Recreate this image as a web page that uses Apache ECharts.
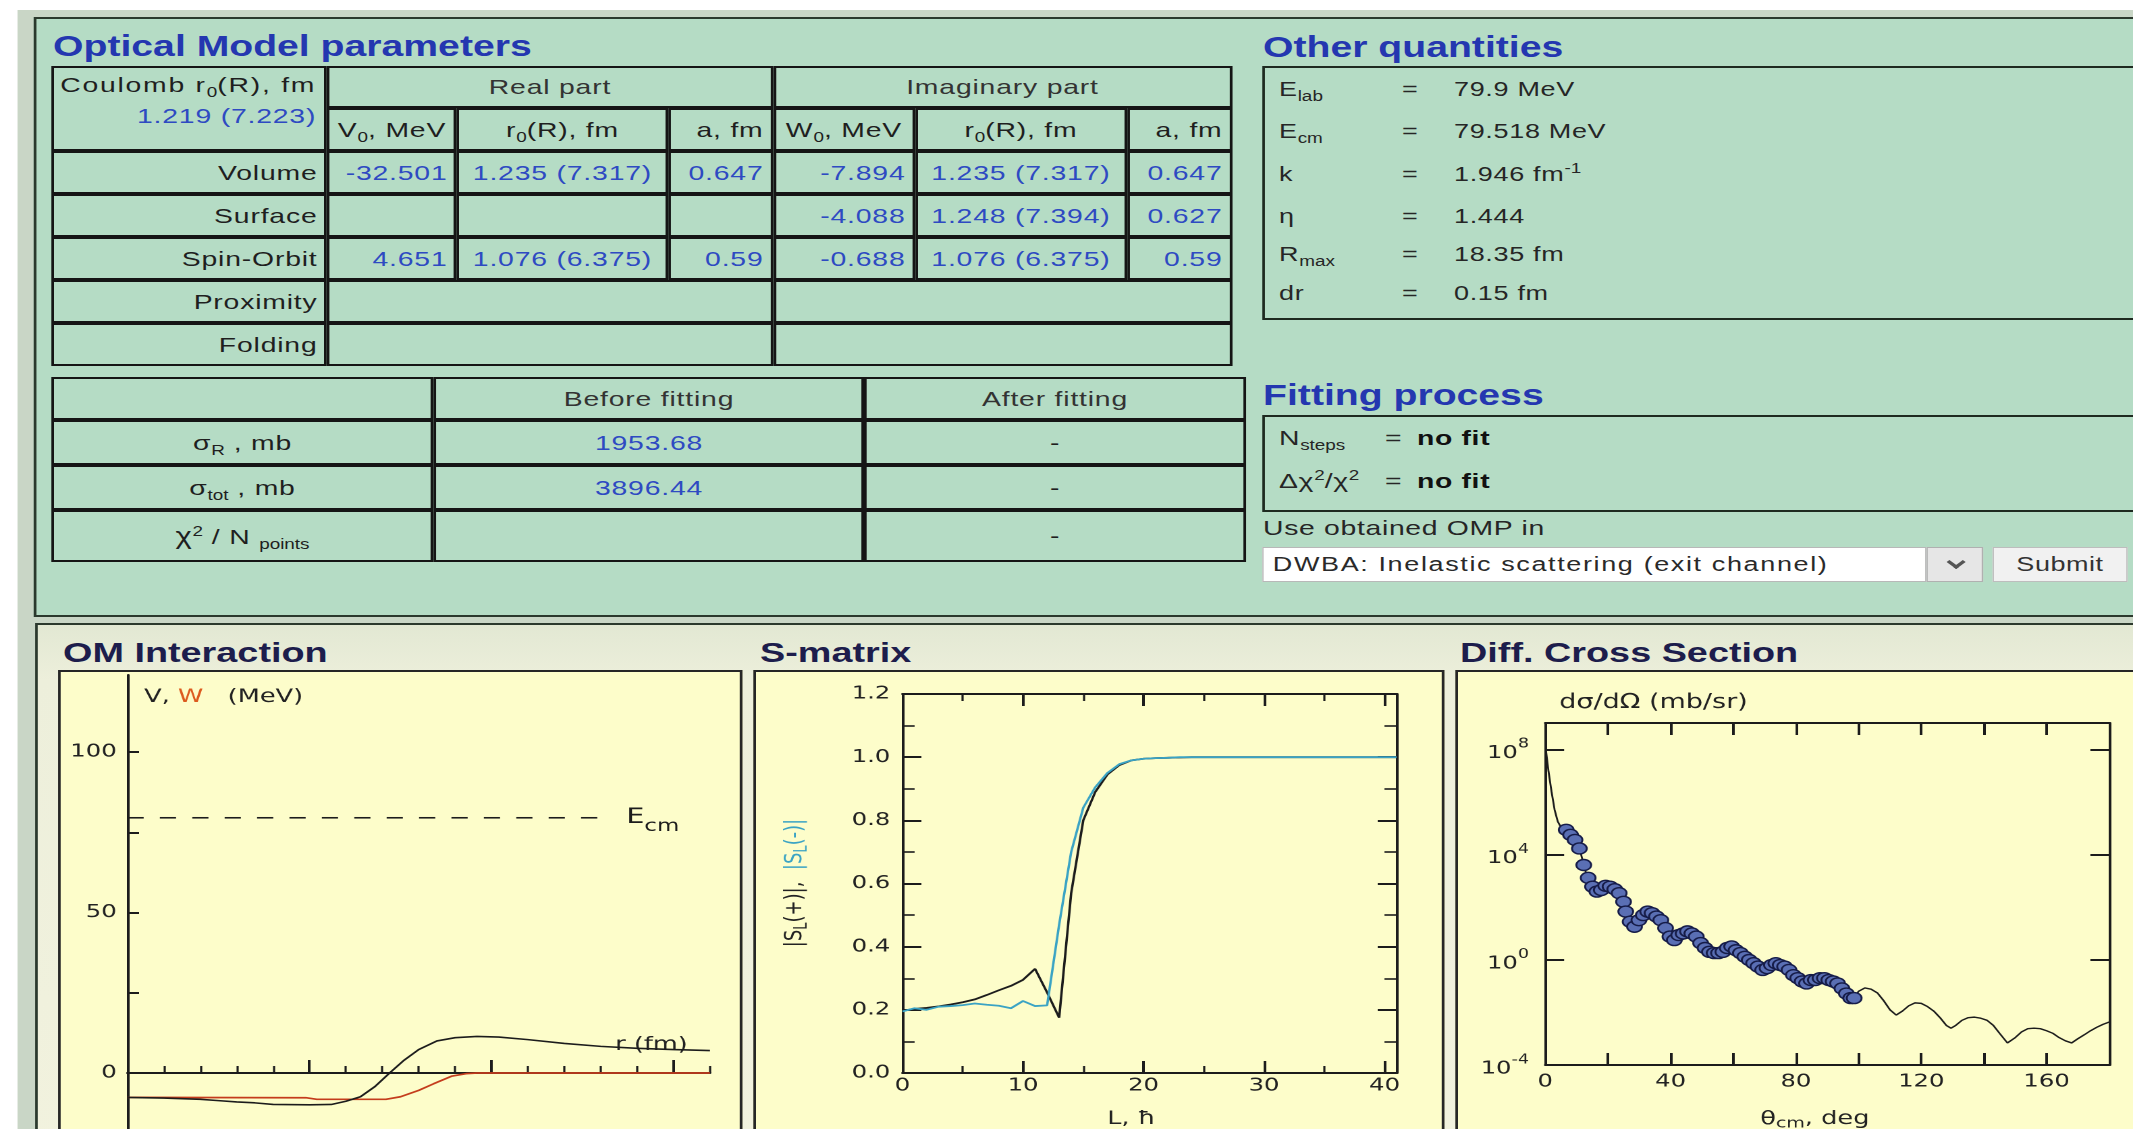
<!DOCTYPE html>
<html>
<head>
<meta charset="utf-8">
<title>Optical Model</title>
<script src="https://cdn.jsdelivr.net/npm/echarts@6.0.0/dist/echarts.min.js"></script>
<style>
html,body{margin:0;padding:0;width:2133px;height:1129px;overflow:hidden;background:#fff}
#page{position:absolute;left:0;top:0;width:1580px;height:1129px;overflow:hidden;transform:scaleX(1.35);transform-origin:0 0;font-family:"Liberation Sans",Arial,sans-serif;color:#1f1f1f}
.abs{position:absolute;box-sizing:border-box}
.frame{left:13.3px;top:10px;width:1700px;height:1300px;background:#c9d6c6}
.upper{left:25.2px;top:17px;width:1700px;height:600px;background:#b5dcc5;border:2px solid #2b392d}
.lower{left:26px;top:623px;width:1700px;height:700px;border:2px solid #2b392d;background:linear-gradient(#e2e8d3,#edefdb 55px,#f3f3df)}
.h1{font-weight:bold;font-size:29px;line-height:29px;color:#2437b0;white-space:nowrap}
.h2{font-weight:bold;font-size:28px;line-height:28px;color:#1d1d4c;white-space:nowrap}
.tbl{display:grid;font-size:21px;letter-spacing:0.6px;color:#1f1f1f}
.tbl>div{box-sizing:border-box;border:2px solid #151515;display:flex;align-items:center;padding:0 5px;white-space:nowrap;overflow:hidden}
.tbl>div.r{justify-content:flex-end}
.tbl>div.c{justify-content:center}
.tbl>div.coul{flex-direction:column;align-items:flex-end;justify-content:flex-start;padding:1px 6px 0 0;line-height:31px}
.v{color:#2e4ac2}
sub{font-size:14px;vertical-align:-5px;line-height:0;letter-spacing:0}
sup{font-size:14px;vertical-align:8px;line-height:0;letter-spacing:0}
.box{border:2px solid #1e2a20}
.row{font-size:20px;line-height:30px;height:30px;letter-spacing:0.5px;white-space:nowrap;color:#262626}
.frow{font-size:21px;line-height:30px;height:30px;letter-spacing:0.5px;white-space:nowrap;color:#262626}
.chart{border:2px solid #262626;background:#fdfdca}
.sel{background:#fff;border:1px solid #b8b8b8;font-size:20px;line-height:33px;padding-left:7px;color:#2a2a2a;letter-spacing:1.2px;white-space:nowrap;overflow:hidden}
.btn{background:#e6e6e6;border:1px solid #b0b0b0}
.sub{background:#f1f1f1;border:1px solid #bdbdbd;font-size:20px;line-height:33px;text-align:center;color:#333;letter-spacing:0.4px}
.chev{left:16px;top:9px;width:10px;height:10px;border-right:3px solid #555;border-bottom:3px solid #555;transform:rotate(45deg)}
</style>
</head>
<body>
<div id="page">
  <div class="abs frame"></div>
  <div class="abs upper"></div>
  <div class="abs lower"></div>

  <!-- optical model parameter table -->
  <div class="abs h1" style="left:39.3px;top:32.2px">Optical Model parameters</div>
  <div class="abs tbl" style="left:37.8px;top:66px;grid-template-columns:204.4px 96.3px 156.3px 77.8px 105.2px 157px 77.8px;grid-template-rows:42px 43px 43px 43px 43px 43px 43px">
    <div class="coul" style="grid-row:1/3;grid-column:1/2"><span style="letter-spacing:1.3px">Coulomb r<sub>0</sub>(R), fm</span><span class="v">1.219 (7.223)</span></div>
    <div class="c" style="grid-row:1/2;grid-column:2/5;color:#333"><span>Real part</span></div>
    <div class="c" style="grid-row:1/2;grid-column:5/8;color:#333"><span>Imaginary part</span></div>
    <div class="c" style="grid-row:2/3;grid-column:2/3"><span>V<sub>0</sub>, MeV</span></div>
    <div class="c" style="grid-row:2/3;grid-column:3/4"><span>r<sub>0</sub>(R), fm</span></div>
    <div class="r" style="grid-row:2/3;grid-column:4/5"><span>a, fm</span></div>
    <div class="c" style="grid-row:2/3;grid-column:5/6"><span>W<sub>0</sub>, MeV</span></div>
    <div class="c" style="grid-row:2/3;grid-column:6/7"><span>r<sub>0</sub>(R), fm</span></div>
    <div class="r" style="grid-row:2/3;grid-column:7/8"><span>a, fm</span></div>

    <div class="r" style="grid-row:3/4;grid-column:1/2"><span>Volume</span></div>
    <div class="r v" style="grid-row:3/4;grid-column:2/3"><span>-32.501</span></div>
    <div class="c v" style="grid-row:3/4;grid-column:3/4"><span>1.235 (7.317)</span></div>
    <div class="r v" style="grid-row:3/4;grid-column:4/5"><span>0.647</span></div>
    <div class="r v" style="grid-row:3/4;grid-column:5/6"><span>-7.894</span></div>
    <div class="c v" style="grid-row:3/4;grid-column:6/7"><span>1.235 (7.317)</span></div>
    <div class="r v" style="grid-row:3/4;grid-column:7/8"><span>0.647</span></div>

    <div class="r" style="grid-row:4/5;grid-column:1/2"><span>Surface</span></div>
    <div style="grid-row:4/5;grid-column:2/3"></div>
    <div style="grid-row:4/5;grid-column:3/4"></div>
    <div style="grid-row:4/5;grid-column:4/5"></div>
    <div class="r v" style="grid-row:4/5;grid-column:5/6"><span>-4.088</span></div>
    <div class="c v" style="grid-row:4/5;grid-column:6/7"><span>1.248 (7.394)</span></div>
    <div class="r v" style="grid-row:4/5;grid-column:7/8"><span>0.627</span></div>

    <div class="r" style="grid-row:5/6;grid-column:1/2"><span>Spin-Orbit</span></div>
    <div class="r v" style="grid-row:5/6;grid-column:2/3"><span>4.651</span></div>
    <div class="c v" style="grid-row:5/6;grid-column:3/4"><span>1.076 (6.375)</span></div>
    <div class="r v" style="grid-row:5/6;grid-column:4/5"><span>0.59</span></div>
    <div class="r v" style="grid-row:5/6;grid-column:5/6"><span>-0.688</span></div>
    <div class="c v" style="grid-row:5/6;grid-column:6/7"><span>1.076 (6.375)</span></div>
    <div class="r v" style="grid-row:5/6;grid-column:7/8"><span>0.59</span></div>

    <div class="r" style="grid-row:6/7;grid-column:1/2"><span>Proximity</span></div>
    <div style="grid-row:6/7;grid-column:2/5"></div>
    <div style="grid-row:6/7;grid-column:5/8"></div>

    <div class="r" style="grid-row:7/8;grid-column:1/2"><span>Folding</span></div>
    <div style="grid-row:7/8;grid-column:2/5"></div>
    <div style="grid-row:7/8;grid-column:5/8"></div>
  </div>

  <!-- cross sections before / after fitting -->
  <div class="abs tbl" style="left:37.8px;top:377px;grid-template-columns:283.7px 318.5px 283px;grid-template-rows:43px 45px 45px 52px">
    <div></div><div class="c" style="color:#333"><span>Before fitting</span></div><div class="c" style="color:#333"><span>After fitting</span></div>
    <div class="c"><span>σ<sub>R</sub>&nbsp;, mb</span></div><div class="c v"><span>1953.68</span></div><div class="c"><span>-</span></div>
    <div class="c"><span>σ<sub>tot</sub>&nbsp;, mb</span></div><div class="c v"><span>3896.44</span></div><div class="c"><span>-</span></div>
    <div class="c"><span><span style="font-size:23px">χ</span><sup>2</sup>&nbsp;/ N <sub>points</sub></span></div><div></div><div class="c"><span>-</span></div>
  </div>

  <!-- other quantities -->
  <div class="abs h1" style="left:935.6px;top:33px">Other quantities</div>
  <div class="abs box" style="left:934.8px;top:66px;width:700px;height:254px"></div>
  <div class="abs row" style="left:947.4px;top:74.3px">E<sub>lab</sub></div>
  <div class="abs row" style="left:1038.5px;top:74.3px">=</div>
  <div class="abs row" style="left:1077px;top:74.3px">79.9 MeV</div>
  <div class="abs row" style="left:947.4px;top:116.3px">E<sub>cm</sub></div>
  <div class="abs row" style="left:1038.5px;top:116.3px">=</div>
  <div class="abs row" style="left:1077px;top:116.3px">79.518 MeV</div>
  <div class="abs row" style="left:947.4px;top:159.3px">k</div>
  <div class="abs row" style="left:1038.5px;top:159.3px">=</div>
  <div class="abs row" style="left:1077px;top:159.3px">1.946 fm<sup>-1</sup></div>
  <div class="abs row" style="left:947.4px;top:201.3px">η</div>
  <div class="abs row" style="left:1038.5px;top:201.3px">=</div>
  <div class="abs row" style="left:1077px;top:201.3px">1.444</div>
  <div class="abs row" style="left:947.4px;top:239.3px">R<sub>max</sub></div>
  <div class="abs row" style="left:1038.5px;top:239.3px">=</div>
  <div class="abs row" style="left:1077px;top:239.3px">18.35 fm</div>
  <div class="abs row" style="left:947.4px;top:278.3px">dr</div>
  <div class="abs row" style="left:1038.5px;top:278.3px">=</div>
  <div class="abs row" style="left:1077px;top:278.3px">0.15 fm</div>

  <!-- fitting process -->
  <div class="abs h1" style="left:935.6px;top:380.5px">Fitting process</div>
  <div class="abs box" style="left:934.8px;top:415px;width:700px;height:97px"></div>
  <div class="abs frow" style="left:947.4px;top:422.7px">N<sub>steps</sub></div>
  <div class="abs frow" style="left:1026px;top:422.7px">=</div>
  <div class="abs frow" style="left:1049.6px;top:422.7px;font-weight:bold;color:#111">no fit</div>
  <div class="abs frow" style="left:947.4px;top:466.1px">Δχ<sup>2</sup>/χ<sup>2</sup></div>
  <div class="abs frow" style="left:1026px;top:466.1px">=</div>
  <div class="abs frow" style="left:1049.6px;top:466.1px;font-weight:bold;color:#111">no fit</div>
  <div class="abs frow" style="left:935.6px;top:513.2px">Use obtained OMP in</div>
  <div class="abs sel" style="left:934.8px;top:547px;width:491.9px;height:35px">DWBA: Inelastic scattering (exit channel)</div>
  <div class="abs btn" style="left:1426.7px;top:547px;width:42.2px;height:35px"><div class="abs chev"></div></div>
  <div class="abs sub" style="left:1475.6px;top:547px;width:100.7px;height:35px">Submit</div>

  <!-- plot panels -->
  <div class="abs h2" style="left:46.7px;top:639.3px">OM Interaction</div>
  <div class="abs h2" style="left:563px;top:639.3px">S-matrix</div>
  <div class="abs h2" style="left:1081.5px;top:639.3px">Diff. Cross Section</div>
  <div id="omChart" class="abs chart" style="left:43px;top:670px;width:506.6px;height:540px"></div>
  <div id="smChart" class="abs chart" style="left:557.8px;top:670px;width:511.8px;height:540px"></div>
  <div id="dcChart" class="abs chart" style="left:1077.8px;top:670px;width:560px;height:540px"></div>
</div>

<script>
// ---------------- data ----------------
// Optical-model potential (r in fm, MeV)
const potRV = [0, 1, 2, 2.5, 3, 3.5, 4, 5, 5.6, 6.0, 6.4, 6.8, 7.2, 7.6, 8.0, 8.5, 9.0, 9.6, 10.2, 11.0, 12.0, 13.0, 14.0, 15.0, 16.0];
const potV  = [-7.6, -7.8, -8.2, -8.6, -9.0, -9.3, -9.8, -9.9, -9.8, -8.8, -7.4, -4.2, 0, 4.0, 7.3, 10.0, 11.0, 11.4, 11.2, 10.4, 9.2, 8.3, 7.7, 7.3, 7.0];
const potRW = [0, 4.9, 5.2, 7.1, 7.5, 8.0, 8.4, 8.9, 9.3, 9.6, 16];
const potW  = [-7.6, -7.7, -8.2, -8.2, -7.4, -5.4, -3.4, -1.0, -0.2, 0, 0];
const E_CM = 79.518;
const ecmR = [0, 13];
const omXMajorTicks = [0, 5, 10, 15];
const omXMinorTicks = [1, 2, 3, 4, 6, 7, 8, 9, 11, 12, 13, 14, 16];
const omXLabels = [5, 10, 15];
const omYTicks = [-25, 0, 25, 50, 75, 100];
const omYLabels = [0, 50, 100];

// S-matrix moduli versus orbital momentum L
const sL = [0,1,2,3,4,5,6,7,8,9,10,11,12,13,14,15,16,17,18,19,20,21,22,23,24,25,26,27,28,29,30,31,32,33,34,35,36,37,38,39,40,41];
const sPlus  = [0.197,0.203,0.206,0.211,0.217,0.224,0.233,0.247,0.262,0.276,0.295,0.330,0.255,0.175,0.570,0.800,0.890,0.945,0.975,0.990,0.995,0.997,0.998,0.999,1.0,1.0,1.0,1.0,1.0,1.0,1.0,1.0,1.0,1.0,1.0,1.0,1.0,1.0,1.0,1.0,1.0,1.0];
const sMinus = [0.195,0.205,0.200,0.210,0.212,0.215,0.220,0.216,0.213,0.205,0.228,0.212,0.214,0.470,0.700,0.840,0.905,0.950,0.978,0.990,0.995,0.997,0.998,1.0,1.0,1.0,1.0,1.0,1.0,1.0,1.0,1.0,1.0,1.0,1.0,1.0,1.0,1.0,1.0,1.0,1.0,1.0];
const sXMajor = [0, 10, 20, 30, 40];
const sXMinor = [5, 15, 25, 35];
const sXLabels = [0, 10, 20, 30, 40];

// Differential cross section (mb/sr) versus theta_cm (deg)
const thetaTheory = [0.3,
  1,2,3,4,5,6,7,8,9,10,
  11,12,13,14,15,16,17,18,19,20,
  21,22,23,24,25,26,27,28,29,30,
  31,32,33,34,35,36,37,38,39,40,
  41,42,43,44,45,46,47,48,49,50,
  51,52,53,54,55,56,57,58,59,60,
  61,62,63,64,65,66,67,68,69,70,
  71,72,73,74,75,76,77,78,79,80,
  81,82,83,84,85,86,87,88,89,90,
  91,92,93,94,95,96,97,98,99,100,
  102,104,106,108,110,112,114,116,118,120,122,124,126,128,
  129.5,
  131,133,135,137,139,141,143,145,
  147.5,
  150,152,154,156,158,160,162,164,166,168,170,172,174,176,178,180];
const dcsTheory = [7.9e7,
  1.6e7,2.5e6,5.0e5,1.8e5,1.1e5,9.3e4,7.9e4,5.8e4,4.2e4,2.6e4,
  1.6e4,5.6e3,2.0e3,1.0e3,630,450,400,460,580,630,
  590,480,360,250,140,63,32,21,23,34,
  48,60,66,60,48,38,28,18,10.5,6.9,
  6.0,7.2,9.1,10.5,11.2,10.5,8.9,7.1,5.0,3.5,
  2.6,2.1,1.86,1.78,1.82,2.0,2.4,2.75,3.0,2.8,
  2.3,1.86,1.48,1.15,0.95,0.79,0.63,0.52,0.44,0.44,
  0.50,0.60,0.71,0.72,0.65,0.58,0.48,0.38,0.29,0.22,
  0.18,0.148,0.132,0.141,0.166,0.178,0.19,0.20,0.20,0.178,
  0.158,0.141,0.12,0.089,0.063,0.05,0.04,0.035,0.042,0.063,
  0.085,0.076,0.055,0.028,0.0126,0.0079,0.0112,0.0178,0.023,0.022,0.0166,0.0112,0.0063,0.0032,
  0.0025,
  0.0032,0.005,0.0063,0.0066,0.006,0.005,0.0032,0.0016,
  0.00069,
  0.0011,0.0018,0.0024,0.0025,0.0024,0.002,0.0016,0.0011,0.00083,0.00069,0.001,0.0014,0.002,0.0027,0.0035,0.0043];
const thetaExp = [6.7,8.1,9.5,10.9,12.3, 13.7,15.1,16.5,17.9,19.3, 20.7,22.2,23.6,25.0,25.7, 27.1,28.5,29.9,31.3,32.7,
  34.1,35.5,36.9,38.4,39.8, 41.2,42.6,44.0,45.4,46.8, 48.2,49.6,51.0,52.4,53.9, 55.3,56.7,58.1,59.5,60.9,
  62.3,63.7,65.1,66.5,67.9, 69.4,70.8,72.2,73.6,75.0, 76.4,77.8,79.2,80.6,82.0, 83.4,84.8,86.2,87.7,89.1,
  90.5,91.9,93.3,94.7,96.1, 97.5,98.6];
const dcsExp = [8.7e4,5.6e4,3.6e4,1.7e4,4.0e3, 1.3e3,600,390,450,650, 600,480,340,160,68, 28,18,32,50,68,
  59,44,32,16,7.6, 5.6,8.7,10,12,10, 7.6,4.3,2.8,2.0,1.8, 1.8,2.0,2.8,3.2,2.3,
  1.8,1.3,0.98,0.74,0.55, 0.41,0.48,0.63,0.74,0.63, 0.55,0.41,0.26,0.20,0.15, 0.126,0.17,0.17,0.20,0.20,
  0.17,0.15,0.126,0.081,0.052, 0.035,0.035];
const dcXLabels = [0, 40, 80, 120, 160];

// ---------------- drawing ----------------
const FONT = '"DejaVu Sans", "Liberation Sans", sans-serif';
const INK = '#1c1c1c';
const LBL = '#222';
const zip = (a, b) => a.map((v, i) => [v, b[i]]);
const line2 = { color: INK, width: 2 };

// OM interaction
const om = echarts.init(document.getElementById('omChart'), null, { devicePixelRatio: 2 });
om.setOption({
  animation: false,
  textStyle: { fontFamily: FONT },
  grid: { left: 49.4, top: 3, width: 431.5, height: 478.25 },
  xAxis: [
    { type: 'value', min: 0, max: 16, position: 'bottom',
      axisLine: { show: true, onZero: true, onZeroAxisIndex: 0, lineStyle: line2 },
      axisTick: { show: true, inside: true, length: 13, customValues: omXMajorTicks, lineStyle: line2 },
      axisLabel: { show: true, customValues: omXLabels, margin: 11, color: LBL, fontSize: 18, fontFamily: FONT },
      splitLine: { show: false } },
    { type: 'value', min: 0, max: 16, position: 'bottom',
      axisLine: { show: false, onZero: true, onZeroAxisIndex: 1 },
      axisTick: { show: true, inside: true, length: 7, customValues: omXMinorTicks, lineStyle: { color: INK, width: 1.6 } },
      axisLabel: { show: false }, splitLine: { show: false } }
  ],
  yAxis: [
    { type: 'value', min: -25, max: 124, position: 'left',
      axisLine: { show: true, onZero: false, lineStyle: line2 },
      axisTick: { show: true, inside: true, length: 8.6, customValues: omYTicks, lineStyle: line2 },
      axisLabel: { show: true, customValues: omYLabels, margin: 8, color: LBL, fontSize: 18, fontFamily: FONT },
      splitLine: { show: false } },
    { type: 'value', min: -25, max: 124, position: 'right',
      axisLine: { show: false, onZero: false }, axisTick: { show: false }, axisLabel: { show: false }, splitLine: { show: false } }
  ],
  graphic: [
    { type: 'text', x: 61.7, y: 25, z: 1,
      style: { text: '{b|V, }{r|W}{b|   (MeV)}', verticalAlign: 'middle', fontFamily: FONT,
        rich: { b: { fontSize: 19, fill: LBL, fontFamily: FONT }, r: { fontSize: 19, fill: '#dc5a1e', fontFamily: FONT } } } },
    { type: 'text', x: 410.6, y: 373, z: 1,
      style: { text: 'r (fm)', verticalAlign: 'middle', fontSize: 19, fill: LBL, fontFamily: FONT } }
  ],
  series: [
    { type: 'line', name: 'Ecm', data: zip(ecmR, [E_CM, E_CM]), symbol: 'none', z: 3,
      lineStyle: { color: INK, width: 1.6, type: [12, 12] },
      endLabel: { show: true, distance: 19, formatter: '{e|E}{s|cm}', color: INK,
        rich: { e: { fontSize: 21, fontFamily: FONT, color: INK }, s: { fontSize: 17, fontFamily: FONT, color: INK, padding: [18, 0, 0, 0] } } } },
    { type: 'line', name: 'W', data: zip(potRW, potW), symbol: 'none', z: 4,
      lineStyle: { color: '#c43c1c', width: 1.7 } },
    { type: 'line', name: 'V', data: zip(potRV, potV), symbol: 'none', z: 5,
      lineStyle: { color: INK, width: 1.6 } }
  ]
});

// S-matrix
const sm = echarts.init(document.getElementById('smChart'), null, { devicePixelRatio: 2 });
function sxAxis(pos, ticks, len, withLine, labels) {
  return { type: 'value', min: 0, max: 41, position: pos,
    axisLine: { show: withLine, onZero: false, lineStyle: line2 },
    axisTick: { show: true, inside: true, length: len, customValues: ticks, lineStyle: { color: INK, width: withLine ? 2 : 1.6 } },
    axisLabel: labels ? { show: true, customValues: labels, margin: 4, color: LBL, fontSize: 18, fontFamily: FONT } : { show: false },
    splitLine: { show: false } };
}
function syAxis(pos, showLabel) {
  return { type: 'value', min: 0, max: 1.2, interval: 0.2, position: pos,
    axisLine: { show: true, onZero: false, lineStyle: line2 },
    axisTick: { show: true, inside: true, length: 14, lineStyle: line2 },
    minorTick: { show: true, splitNumber: 2, length: 9, lineStyle: { color: INK, width: 1.6 } },
    axisLabel: showLabel ? { show: true, margin: 9, color: LBL, fontSize: 18, fontFamily: FONT, formatter: v => v.toFixed(1) } : { show: false },
    splitLine: { show: false }, minorSplitLine: { show: false } };
}
sm.setOption({
  animation: false,
  textStyle: { fontFamily: FONT },
  grid: { left: 108.5, top: 22, width: 366, height: 379 },
  xAxis: [
    sxAxis('bottom', sXMajor, 12, true, sXLabels),
    sxAxis('bottom', sXMinor, 7, false, null),
    sxAxis('top', sXMajor, 12, true, null),
    sxAxis('top', sXMinor, 7, false, null)
  ],
  yAxis: [syAxis('left', true), syAxis('right', false)],
  graphic: [
    { type: 'text', x: 29, y: 211, rotation: Math.PI / 2,
      style: { text: '{b||S}{bs|L}{b|(+)|,  }{c||S}{cs|L}{c|(-)|}', align: 'center', verticalAlign: 'middle', fontFamily: FONT,
        rich: {
          b: { fontSize: 18, fill: LBL, fontFamily: FONT },
          bs: { fontSize: 13, fill: LBL, fontFamily: FONT, padding: [10, 0, 0, 0] },
          c: { fontSize: 18, fill: '#3aa3c4', fontFamily: FONT },
          cs: { fontSize: 13, fill: '#3aa3c4', fontFamily: FONT, padding: [10, 0, 0, 0] }
        } } },
    { type: 'text', x: 278, y: 447,
      style: { text: 'L, ħ', align: 'center', verticalAlign: 'middle', fontSize: 19, fill: LBL, fontFamily: FONT } }
  ],
  series: [
    { type: 'line', name: '|S(+)|', data: zip(sL, sPlus), xAxisIndex: 0, yAxisIndex: 0, symbol: 'none', z: 3,
      lineStyle: { color: INK, width: 1.8 } },
    { type: 'line', name: '|S(-)|', data: zip(sL, sMinus), xAxisIndex: 0, yAxisIndex: 0, symbol: 'none', z: 4,
      lineStyle: { color: '#3aa3c4', width: 1.8 } }
  ]
});

// Differential cross section
const dc = echarts.init(document.getElementById('dcChart'), null, { devicePixelRatio: 2 });
function dxAxis(pos, labels) {
  return { type: 'value', min: 0, max: 180, interval: 20, position: pos,
    axisLine: { show: true, onZero: false, lineStyle: line2 },
    axisTick: { show: true, inside: true, length: 12, lineStyle: line2 },
    axisLabel: labels ? { show: true, customValues: labels, margin: 8, color: LBL, fontSize: 18, fontFamily: FONT } : { show: false },
    splitLine: { show: false } };
}
function dyAxis(pos, showLabel) {
  return { type: 'log', logBase: 10, min: 1e-4, max: 1e9, interval: 4, position: pos,
    axisLine: { show: true, onZero: false, lineStyle: line2 },
    axisTick: { show: true, inside: true, length: 14, lineStyle: line2 },
    minorTick: { show: false },
    axisLabel: showLabel ? {
      show: true, margin: 12, color: LBL, fontFamily: FONT,
      formatter: v => { const e = Math.round(Math.log10(v)); return e > 8 ? '' : '{b|10}{p|' + e + '}'; },
      rich: { b: { fontSize: 18, color: LBL, fontFamily: FONT, padding: [8, 0, 0, 0] },
              p: { fontSize: 13, color: LBL, fontFamily: FONT, padding: [0, 0, 10, 0] } }
    } : { show: false },
    splitLine: { show: false } };
}
dc.setOption({
  animation: false,
  textStyle: { fontFamily: FONT },
  grid: { left: 64.6, top: 51, width: 417.8, height: 342 },
  xAxis: [dxAxis('bottom', dcXLabels), dxAxis('top', null)],
  yAxis: [dyAxis('left', true), dyAxis('right', false)],
  graphic: [
    { type: 'text', x: 75, y: 31,
      style: { text: 'dσ/dΩ (mb/sr)', verticalAlign: 'middle', fontSize: 20, fill: LBL, fontFamily: FONT } },
    { type: 'text', x: 223.9, y: 447,
      style: { text: '{b|θ}{s|cm}{b|, deg}', verticalAlign: 'middle', fontFamily: FONT,
        rich: { b: { fontSize: 19, fill: LBL, fontFamily: FONT }, s: { fontSize: 14, fill: LBL, fontFamily: FONT, padding: [10, 0, 0, 0] } } } }
  ],
  series: [
    { type: 'line', name: 'theory', data: zip(thetaTheory, dcsTheory), xAxisIndex: 0, yAxisIndex: 0, symbol: 'none', z: 3,
      lineStyle: { color: INK, width: 1.4 } },
    { type: 'scatter', name: 'experiment', data: zip(thetaExp, dcsExp), xAxisIndex: 0, yAxisIndex: 0, z: 4,
      symbol: 'circle', symbolSize: 11,
      itemStyle: { color: '#5a6fb4', borderColor: '#161c48', borderWidth: 1.4, opacity: 1 } }
  ]
});
</script>
</body>
</html>
